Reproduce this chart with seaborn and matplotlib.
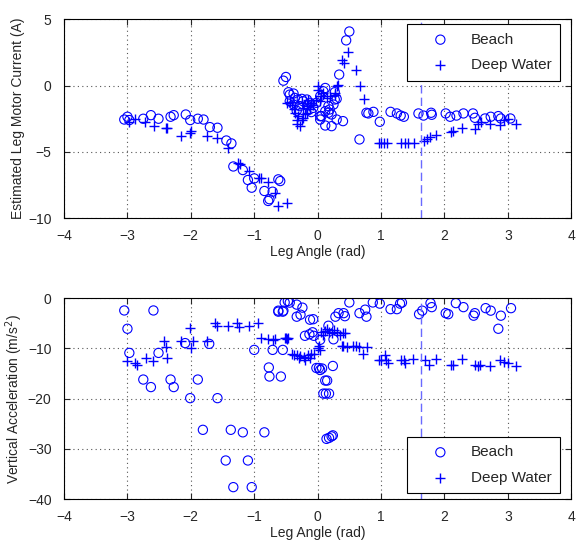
import numpy as np
import matplotlib
matplotlib.use("Agg")
import matplotlib.pyplot as plt
import seaborn as sns

# --- top panel: estimated leg motor current (A) vs leg angle (rad)
top_beach_x = [-3.05, -3.0, -2.97, -2.75, -2.63, -2.51, -2.32, -2.27, -2.08, -2.01, -1.89, -1.80,
               -1.70, -1.58, -1.44, -1.36, -1.33, -1.18, -1.10, -1.04, -1.0, -0.84, -0.71, -0.76,
               -0.78, -0.62, -0.59, -0.54, -0.50,
               -0.46, -0.44, -0.38, -0.36, -0.31, -0.25, -0.23, -0.17, -0.12, -0.44, -0.38, -0.28,
               -0.17, -0.07, -0.02, 0.04, 0.09, 0.12, 0.17, 0.19, 0.25, 0.27, 0.04, 0.12, 0.17,
               0.22, 0.30, 0.40, 0.04, 0.12, 0.22, 0.30, 0.27, -0.33, -0.10, 0.06, 0.34, 0.45, 0.50,
               0.66, 0.77, 0.80, 0.88, 0.98, 1.15, 1.25, 1.31, 1.36, 1.59, 1.67, 1.79, 1.80, 2.02,
               2.09, 2.19, 2.30, 2.45, 2.48, 2.64, 2.73, 2.85, 2.89, 3.04]
top_beach_y = [-2.56, -2.35, -2.6, -2.5, -2.23, -2.5, -2.35, -2.23, -2.18, -2.6, -2.5, -2.56,
               -3.13, -3.18, -4.14, -4.36, -6.1, -6.37, -7.12, -7.7, -7.0, -7.95, -8.0, -8.57,
               -8.7, -7.07, -7.2, 0.37, 0.65,
               -0.5, -0.68, -0.6, -0.93, -1.05, -1.0, -1.18, -1.05, -1.3, -1.18, -1.43, -1.55,
               -1.5, -1.68, -1.3, -0.8, -0.43, -0.18, -1.55, -1.8, -1.43, -1.05, -2.31, -1.93,
               -2.05, -2.18, -2.56, -2.68, -2.56, -3.01, -3.06, -1.0, -0.5, -1.9, -2.0, -2.3,
               0.83, 3.41, 4.08,
               -4.06, -2.05, -2.1, -1.98, -2.73, -1.98, -2.1, -2.26, -2.35, -2.1, -2.26, -2.05,
               -2.2, -2.1, -2.35, -2.26, -2.1, -2.1, -2.43, -2.48, -2.35, -2.3, -2.48, -2.48]

top_deep_x = [-2.98, -2.88, -2.72, -2.58, -2.39, -2.37, -2.16, -2.01, -2.0, -1.75, -1.59, -1.41,
              -1.25, -1.22, -1.09, -0.93, -0.90, -0.78, -0.68, -0.62, -0.49,
              -0.48, -0.41, -0.38, -0.36, -0.31, -0.25, -0.23, -0.33, -0.28, -0.17, -0.12, -0.07,
              -0.02, 0.04, 0.06, 0.09, 0.14, 0.19, 0.27, 0.30, 0.32, 0.27, 0.01, 0.0, -0.17, -0.10,
              -0.23, -0.33, -0.20, -0.44, -0.15,
              0.48, 0.39, 0.42, 0.60, 0.67, 0.73,
              0.96, 1.0, 1.05, 1.10, 1.31, 1.38, 1.43, 1.52, 1.68, 1.73, 1.77, 1.87, 2.11, 2.14,
              2.28, 2.49, 2.53, 2.58, 2.72, 2.88, 2.94, 3.0, 3.13]
top_deep_y = [-2.76, -2.5, -2.76, -3.06, -3.18, -3.18, -3.81, -3.56, -3.43, -3.81, -3.96, -4.74,
              -5.81, -5.9, -6.44, -6.94, -6.94, -7.27, -8.07, -9.07, -8.87,
              -1.3, -1.43, -1.8, -2.05, -2.31, -2.56, -2.43, -2.93, -3.06, -2.05, -1.8, -1.43,
              -1.05, -1.18, -0.8, -0.55, -0.93, -0.8, -0.68, -0.05, 0.05, -0.55, 0.0, -0.3,
              -1.55, -1.3, -1.68, -2.56, -2.18, -1.2, -1.05,
              2.53, 1.9, 1.7, 1.2, -0.05, -1.0,
              -4.36, -4.36, -4.36, -4.36, -4.31, -4.36, -4.31, -4.36, -4.19, -4.03, -3.88, -3.76,
              -3.51, -3.43, -3.18, -3.26, -2.86, -2.76, -2.93, -3.0, -2.6, -2.5, -2.93]

# --- bottom panel: vertical acceleration (m/s^2) vs leg angle (rad)
bot_beach_x = [-3.05, -2.59, -3.0, -2.97, -2.51, -2.75, -2.63, -2.32, -2.27, -2.09, -2.01, -1.89,
               -1.71, -1.58, -1.81, -1.37, -1.18, -0.84, -1.45, -1.10, -1.33, -1.04, -1.0, -0.71,
               -0.55, -0.77, -0.76, -0.58,
               -0.62, -0.54, -0.52, -0.47, -0.44, -0.33, -0.62, -0.55, -0.33, -0.27, -0.24, -0.12,
               -0.07, -0.08, -0.20, -0.13, -0.06, 0.04, -0.02, 0.02, 0.04, 0.07, 0.12, 0.15, 0.09,
               0.13, 0.18, 0.14, 0.18, 0.22, 0.24, 0.25, 0.24, 0.17, 0.28, 0.33, 0.41, 0.43, 0.50,
               0.66, 0.75, 0.77, 0.87, 0.98, 1.15, 1.25, 1.30, 1.33, 1.60, 1.65, 1.78, 1.80, 2.02,
               2.06, 2.18, 2.30, 2.46, 2.48, 2.65, 2.73, 2.89, 2.85, 3.05]
bot_beach_y = [-2.46, -2.46, -6.1, -10.9, -10.9, -16.2, -17.7, -16.2, -17.7, -8.95, -19.9, -16.2,
               -9.1, -19.9, -26.2, -26.2, -26.7, -26.7, -32.3, -32.3, -37.6, -37.6, -10.3, -10.3,
               -10.3, -13.8, -15.6, -15.6,
               -2.5, -2.5, -0.87, -0.6, -0.9, -1.3, -2.7, -2.7, -3.7, -3.3, -1.9, -4.3, -4.2,
               -6.8, -7.5, -7.2, -7.5, -8.3, -13.9, -13.9, -14.3, -14.0, -16.4, -16.4, -19.0,
               -19.0, -19.0, -28.0, -27.8, -27.5, -27.3, -8.2, -13.5, -5.5, -3.7, -3.0, -3.0,
               -3.6, -0.87,
               -3.0, -2.3, -3.7, -0.87, -1.1, -2.2, -2.2, -1.1, -0.9, -3.2, -2.5, -1.0, -1.8, -3.0,
               -3.2, -1.0, -1.8, -3.5, -3.0, -2.0, -2.5, -3.5, -6.1, -2.0]

bot_deep_x = [-3.0, -2.88, -2.85, -2.71, -2.59, -2.37, -2.42, -2.39, -2.16, -2.01, -2.0, -1.97,
              -1.75, -1.62, -1.59, -1.42, -1.27, -1.24, -1.08, -0.94, -0.89, -0.78, -0.67, -0.49,
              -0.47, -0.70, -0.52, -0.50,
              -0.41, -0.38, -0.33, -0.28, -0.22, -0.20, -0.15, -0.10, -0.05, -0.30, -0.12, 0.01,
              0.03, 0.02, 0.06, 0.08, 0.12, 0.15, 0.18, 0.22, 0.26, 0.30, 0.35, 0.40, 0.43, 0.38,
              0.40, 0.46, 0.55, 0.61, 0.65, 0.71, 0.78,
              0.96, 1.00, 1.06, 1.08, 1.11, 1.31, 1.36, 1.38, 1.50, 1.69, 1.75, 1.87, 2.11, 2.14,
              2.28, 2.49, 2.53, 2.56, 2.72, 2.88, 2.94, 3.0, 3.13]
bot_deep_y = [-12.5, -12.9, -13.3, -11.9, -12.5, -11.9, -8.5, -9.7, -8.6, -6.0, -9.9, -8.5,
              -8.6, -5.0, -5.6, -5.6, -5.0, -5.7, -5.6, -5.0, -8.0, -8.2, -8.2, -8.2,
              -8.0, -8.3, -8.0, -8.0,
              -11.1, -11.3, -11.3, -11.6, -11.8, -12.4, -11.3, -11.1, -11.1, -12.0, -11.9, -10.0,
              -10.4, -9.6, -6.8, -7.3, -6.6, -6.2, -6.8, -7.0, -6.4, -6.8, -7.3, -7.0, -7.0, -9.6,
              -9.6, -9.8, -9.5, -9.5, -9.8, -11.1, -9.7,
              -12.4, -12.4, -11.3, -12.4, -12.9, -12.4, -12.4, -12.9, -12.1, -12.4, -13.3, -12.1,
              -13.3, -13.3, -12.1, -13.3, -13.5, -13.3, -13.5, -12.4, -12.7, -12.9, -13.5]

marker_line_x = 1.63

sns.set_style("ticks")
plt.rcParams['font.family'] = ['Liberation Sans', 'DejaVu Sans']

fig = plt.figure(figsize=(5.77, 5.51), dpi=100)
ax1 = fig.add_axes([0.111, 0.604, 0.879, 0.361])
ax2 = fig.add_axes([0.111, 0.094, 0.879, 0.365])

panels = [
    (ax1, top_beach_x, top_beach_y, top_deep_x, top_deep_y, (-10, 5), [-10, -5, 0, 5],
     'Estimated Leg Motor Current (A)', 'upper right', (0.978, 0.975)),
    (ax2, bot_beach_x, bot_beach_y, bot_deep_x, bot_deep_y, (-40, 0), [-40, -30, -20, -10, 0],
     'Vertical Acceleration (m/s$^2$)', 'lower right', (0.978, 0.03)),
]

for ax, bx, by, dx, dy, ylim, yticks, ylab, loc, anchor in panels:
    sns.scatterplot(x=bx, y=by, ax=ax, marker='o', s=44, facecolor='none',
                    edgecolor='#0000ff', linewidth=0.8, label='Beach')
    sns.scatterplot(x=dx, y=dy, ax=ax, marker='+', s=48, color='#0000ff',
                    linewidth=1.0, label='Deep Water')
    ax.axvline(marker_line_x, color='#6a6aff', ls=(0, (6, 3)), lw=1.0, zorder=1)
    ax.set_xlim(-4, 4)
    ax.set_ylim(*ylim)
    ax.set_xticks(range(-4, 5))
    ax.set_yticks(yticks)
    ax.grid(True, ls=(0, (1, 3)), color='#555555', lw=0.8)
    ax.tick_params(direction='in', length=4, labelsize=10, top=True, right=True)
    ax.tick_params(axis='x', pad=8)
    ax.tick_params(axis='y', pad=9)
    for sp in ax.spines.values():
        sp.set_color('black')
        sp.set_linewidth(0.8)
    ax.set_xlabel('Leg Angle (rad)', fontsize=10, labelpad=1)
    ax.set_ylabel(ylab, fontsize=10, labelpad=2)
    leg = ax.legend(loc=loc, bbox_to_anchor=anchor, fontsize=11, frameon=True, fancybox=False,
                    framealpha=1, edgecolor='black', borderpad=0.55, handletextpad=0.35,
                    handlelength=3.3, labelspacing=0.75, borderaxespad=0)
    leg.get_frame().set_linewidth(0.8)

fig.savefig('out.png', dpi=100)
